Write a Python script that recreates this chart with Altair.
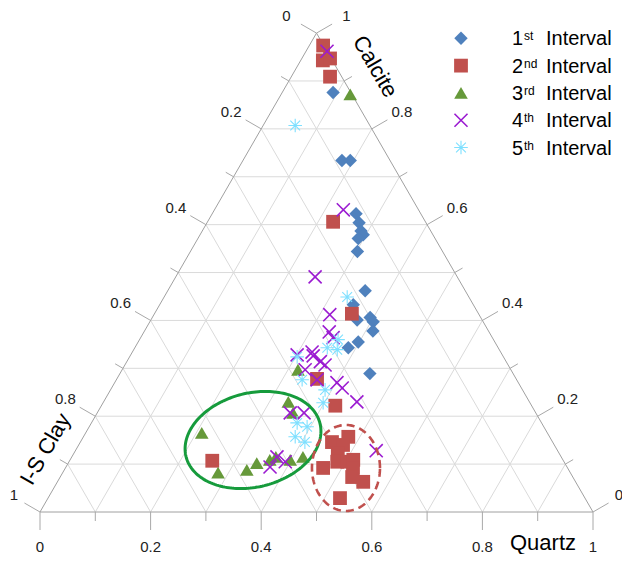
import math
import numpy as np
import pandas as pd
import altair as alt

# ---------------- data: composition fractions (Quartz, Calcite); I-S Clay = 1 - Q - C
int1_quartz = [0.092, 0.179, 0.194, 0.260, 0.275, 0.287, 0.295, 0.290, 0.302, 0.357, 0.350,
               0.373, 0.394, 0.404, 0.413, 0.398, 0.386, 0.452]
int1_calcite = [0.876, 0.734, 0.734, 0.623, 0.604, 0.587, 0.579, 0.571, 0.544, 0.462, 0.433,
                0.401, 0.406, 0.397, 0.378, 0.355, 0.343, 0.289]

int2_quartz = [0.025, 0.040, 0.051, 0.070, 0.227, 0.357, 0.362, 0.423, 0.258, 0.455, 0.479,
               0.478, 0.477, 0.466, 0.485, 0.503, 0.512, 0.520, 0.528, 0.553, 0.528]
int2_calcite = [0.974, 0.943, 0.947, 0.909, 0.606, 0.414, 0.278, 0.222, 0.107, 0.146, 0.157,
                0.140, 0.123, 0.092, 0.105, 0.105, 0.109, 0.092, 0.073, 0.063, 0.029]

int3_quartz = [0.125, 0.318, 0.334, 0.354, 0.210, 0.281, 0.330, 0.341, 0.361, 0.369, 0.398, 0.418]
int3_calcite = [0.872, 0.297, 0.230, 0.207, 0.165, 0.082, 0.088, 0.102, 0.109, 0.115, 0.109, 0.115]

int4_quartz = [0.038, 0.233, 0.252, 0.318, 0.335, 0.348, 0.301, 0.325, 0.331, 0.350, 0.362,
               0.331, 0.363, 0.402, 0.417, 0.458, 0.349, 0.374, 0.369, 0.371, 0.391, 0.544]
int4_calcite = [0.962, 0.631, 0.491, 0.412, 0.376, 0.364, 0.328, 0.334, 0.326, 0.314, 0.307,
                0.297, 0.276, 0.270, 0.259, 0.230, 0.207, 0.207, 0.094, 0.115, 0.105, 0.128]

int5_quartz = [0.058, 0.331, 0.359, 0.348, 0.368, 0.303, 0.336, 0.388, 0.398, 0.372, 0.394,
               0.383, 0.406]
int5_calcite = [0.807, 0.449, 0.360, 0.343, 0.339, 0.324, 0.276, 0.255, 0.228, 0.186, 0.178,
                0.157, 0.146]

interval_numbers = ["1", "2", "3", "4", "5"]
interval_suffixes = ["st", "nd", "rd", "th", "th"]

tick_values = [round(0.1 * i, 1) for i in range(11)]
label_values = [0, 0.2, 0.4, 0.6, 0.8, 1]

# ---------------- layout / style
S = math.sqrt(3) / 2
W, H = 614, 546
PX = 553.0                 # pixels per composition unit
OX, OY = 32, 504           # left vertex inside plot area (px)
xdom = [-OX / PX, (W - OX) / PX]
ydom = [-(H - OY) / PX, OY / PX]
FONT = "Liberation Sans"

X_PATH = "M-1,-1L1,1M-1,1L1,-1"
STAR_PATH = "M-1,0L1,0M0,-1L0,1M-0.72,-0.72L0.72,0.72M-0.72,0.72L0.72,-0.72"

styles = [
    dict(shape="diamond", color="#4F81BD", filled=True, size=180, sw=0),
    dict(shape="square", color="#C0504D", filled=True, size=190, sw=0),
    dict(shape="triangle-up", color="#66993A", filled=True, size=185, sw=0),
    dict(shape=X_PATH, color="#9B1BD1", filled=False, size=170, sw=1.6),
    dict(shape=STAR_PATH, color="#7FE0FF", filled=False, size=185, sw=1.1),
]
series_q = [int1_quartz, int2_quartz, int3_quartz, int4_quartz, int5_quartz]
series_c = [int1_calcite, int2_calcite, int3_calcite, int4_calcite, int5_calcite]


def to_xy(q, c):
    return q + c / 2.0, c * S


XS = alt.Scale(domain=xdom, nice=False, zero=False)
YS = alt.Scale(domain=ydom, nice=False, zero=False)


def base(df):
    return alt.Chart(df).encode(
        x=alt.X("x:Q", scale=XS, axis=None),
        y=alt.Y("y:Q", scale=YS, axis=None),
    )


layers = []

# ---------------- grid
g = []
for v in tick_values[1:-1]:
    x1, y1 = to_xy(0, v); x2, y2 = to_xy(1 - v, v); g.append((x1, y1, x2, y2))
    x1, y1 = to_xy(v, 0); x2, y2 = to_xy(v, 1 - v); g.append((x1, y1, x2, y2))
    x1, y1 = to_xy(1 - v, 0); x2, y2 = to_xy(0, 1 - v); g.append((x1, y1, x2, y2))
grid_df = pd.DataFrame(g, columns=["x", "y", "x2", "y2"])
layers.append(base(grid_df).mark_rule(color="#dadada", strokeWidth=1).encode(x2="x2:Q", y2="y2:Q"))

# ---------------- edges
verts = [to_xy(0, 0), to_xy(1, 0), to_xy(0, 1)]
edge_df = pd.DataFrame([
    (*verts[0], *verts[1]), (*verts[1], *verts[2]), (*verts[2], *verts[0])
], columns=["x", "y", "x2", "y2"])
layers.append(base(edge_df).mark_rule(color="#a0a0a0", strokeWidth=1).encode(x2="x2:Q", y2="y2:Q"))

# ---------------- ticks
t = []
for v in tick_values:
    L = (18 if round(v * 10) % 2 == 0 else 9) / PX
    bx, by = to_xy(v, 0)
    t.append((bx, by, bx, by - L))
    lx, ly = to_xy(0, 1 - v)
    t.append((lx, ly, lx - L * S, ly + L * 0.5))
    rx, ry = to_xy(1 - v, v)
    t.append((rx, ry, rx + L * S, ry + L * 0.5))
tick_df = pd.DataFrame(t, columns=["x", "y", "x2", "y2"])
layers.append(base(tick_df).mark_rule(color="#a8a8a8", strokeWidth=1).encode(x2="x2:Q", y2="y2:Q"))

# ---------------- tick labels
def fmt(v):
    return "0" if v == 0 else ("1" if v == 1 else f"{v:g}")

bot = pd.DataFrame([(*to_xy(v, 0), fmt(v)) for v in label_values], columns=["x", "y", "t"])
lef = pd.DataFrame([(*to_xy(0, 1 - v), fmt(v)) for v in label_values if v != 1], columns=["x", "y", "t"])
lef_end = pd.DataFrame([(*to_xy(0, 0), "1")], columns=["x", "y", "t"])
rig = pd.DataFrame([(*to_xy(1 - v, v), fmt(v)) for v in label_values if v != 0], columns=["x", "y", "t"])
rig_end = pd.DataFrame([(*to_xy(1, 0), "0")], columns=["x", "y", "t"])
txt_kw = dict(font=FONT, fontSize=15, color="#222222", align="center", baseline="middle")
layers.append(base(bot).mark_text(dy=35, **txt_kw).encode(text="t:N"))
layers.append(base(lef).mark_text(dx=-30, dy=-17, **txt_kw).encode(text="t:N"))
layers.append(base(lef_end).mark_text(dx=-26, dy=-17, **txt_kw).encode(text="t:N"))
layers.append(base(rig).mark_text(dx=30, dy=-17, **txt_kw).encode(text="t:N"))
layers.append(base(rig_end).mark_text(dx=26, dy=-17, **txt_kw).encode(text="t:N"))

# ---------------- axis titles
title_df = pd.DataFrame([
    ("Quartz", 0.9096, -0.0560, 0),
    ("Calcite", 0.606, 0.8055, 60),
    ("I-S Clay", 0.0100, 0.1137, 300),
], columns=["t", "x", "y", "a"])
for _, r in title_df.iterrows():
    layers.append(base(pd.DataFrame([r])).mark_text(
        font=FONT, fontSize=22, color="#000000", align="center", baseline="middle",
        angle=int(r["a"])).encode(text="t:N"))

# ---------------- data points
def point_kw(st):
    kw = dict(shape=st["shape"], size=st["size"], opacity=1, filled=st["filled"])
    if st["filled"]:
        kw.update(fill=st["color"], strokeWidth=0)
    else:
        kw.update(stroke=st["color"], strokeWidth=st["sw"])
    return kw

for q, c, st in zip(series_q, series_c, styles):
    xs, ys = zip(*[to_xy(a, b) for a, b in zip(q, c)])
    df = pd.DataFrame({"x": xs, "y": ys})
    layers.append(base(df).mark_point(**point_kw(st)))

# ---------------- annotation ellipses
tt = np.linspace(0, 2 * np.pi, 181)
def ellipse(cx, cy, a, b, rot_deg):
    r = math.radians(rot_deg)
    ex = cx + a * np.cos(tt) * math.cos(r) - b * np.sin(tt) * math.sin(r)
    ey = cy + a * np.cos(tt) * math.sin(r) + b * np.sin(tt) * math.cos(r)
    return pd.DataFrame({"x": ex, "y": ey, "i": np.arange(len(tt))})

green_e = ellipse(0.3852, 0.1302, 0.1248, 0.0850, 14)
red_e = ellipse(0.5533, 0.0796, 0.0615, 0.0778, 0)
layers.append(base(green_e).mark_line(color="#169B3C", strokeWidth=3).encode(order="i:Q"))
layers.append(base(red_e).mark_line(color="#C0504D", strokeWidth=2.6, strokeDash=[8, 5]).encode(order="i:Q"))

# ---------------- legend
LX, LY, LSTEP = 0.7613, 0.8566, 0.0494
for i, st in enumerate(styles):
    row = pd.DataFrame({"x": [LX], "y": [LY - i * LSTEP],
                        "n": [interval_numbers[i]], "s": [interval_suffixes[i]], "w": ["Interval"]})
    layers.append(base(row).mark_point(**point_kw(st)))
    layers.append(base(row).mark_text(font=FONT, fontSize=20, color="#000000", align="left",
                                      baseline="alphabetic", dx=51, dy=7).encode(text="n:N"))
    layers.append(base(row).mark_text(font=FONT, fontSize=12, color="#000000", align="left",
                                      baseline="alphabetic", dx=63, dy=2).encode(text="s:N"))
    layers.append(base(row).mark_text(font=FONT, fontSize=20, color="#000000", align="left",
                                      baseline="alphabetic", dx=85, dy=7).encode(text="w:N"))

chart = alt.layer(*layers).properties(
    width=W, height=H, padding=0,
    autosize=alt.AutoSizeParams(type="none"),
).configure_view(stroke=None)

chart.save("out.html", embed_options={"renderer": "svg", "actions": False})
